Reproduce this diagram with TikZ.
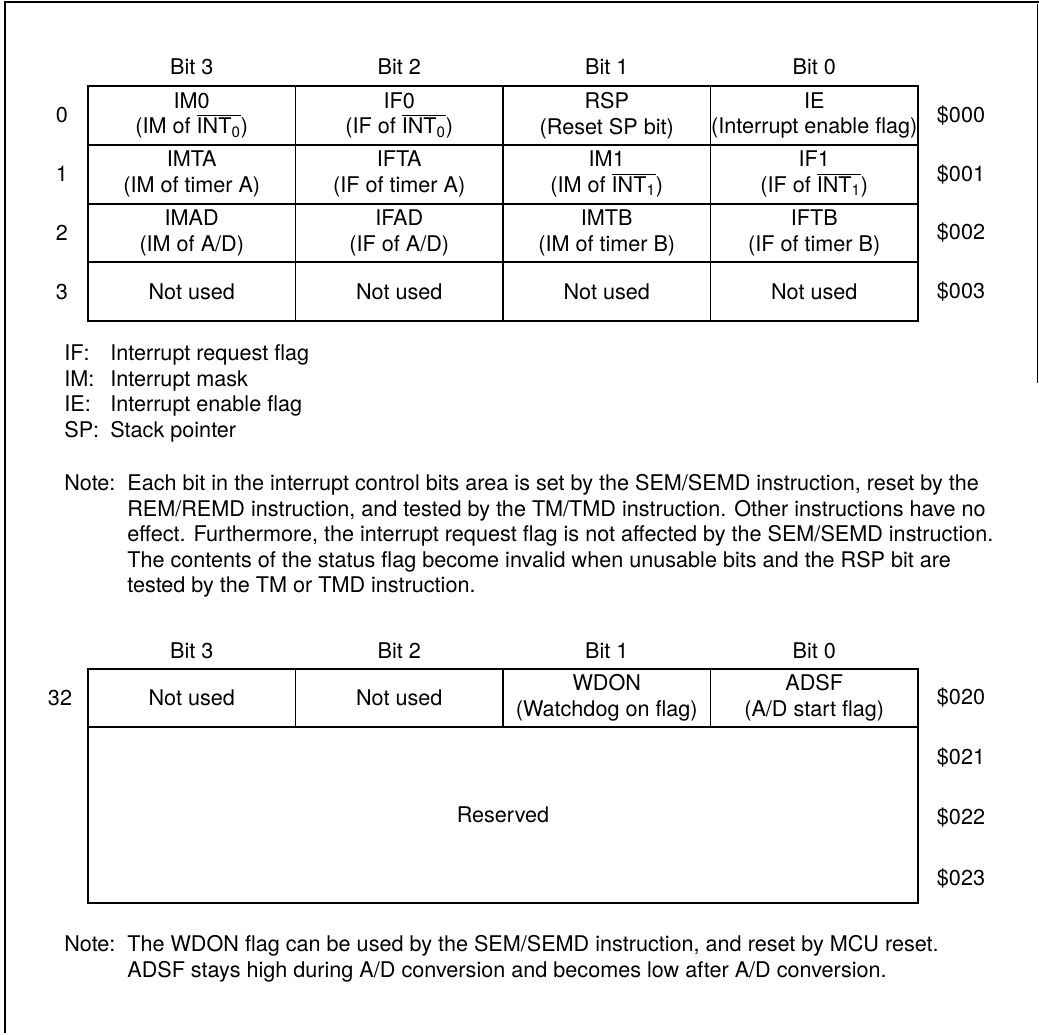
\documentclass[tikz,border=0pt]{standalone}
\usepackage{fontspec}
\setmainfont{TeX Gyre Heros}
\usetikzlibrary{positioning}
\newcommand{\ovl}[1]{$\overline{\hbox{#1}}$}

\begin{document}
\begin{tikzpicture}[
    x=0.02cm, y=-0.02cm,
    cell/.style={draw, line width=1.1pt, minimum width=4.15cm, minimum height=1.175cm, inner sep=0pt, align=center, font=\fontsize{12.3}{14.6}\selectfont},
    lbl/.style={inner sep=0pt, font=\fontsize{12.3}{14.6}\selectfont},
    notetext/.style={inner sep=0pt, align=left, font=\fontsize{12.3}{14.46}\selectfont},
    frame/.style={line width=1.4pt}
]
    \useasboundingbox (0,0) rectangle (1039,1035);

    % Page frame (cut off at the right)
    \draw[frame] (4,2) -- (1039,2);
    \draw[frame] (5,2) -- (5,1033);
    \draw[line width=0.5pt] (1037,4) -- (1037,383);

    % Bit headers (upper table)
    \node[lbl] (hb3) at (191.75,67) {Bit 3};
    \node[lbl] (hb2) at (399.25,67) {Bit 2};
    \node[lbl] (hb1) at (606.75,67) {Bit 1};
    \node[lbl] (hb0) at (814.25,67) {Bit 0};

    % Row 0
    \node[lbl] (r0) at (62,115.4) {0};
    \node[cell] (im0) at (191.75,115.4) {IM0\\(IM of \ovl{INT\textsubscript{0}})};
    \node[cell] (if0) at (399.25,115.4) {IF0\\(IF of \ovl{INT\textsubscript{0}})};
    \node[cell] (rsp) at (606.75,115.4) {RSP\\(Reset SP bit)};
    \node[cell] (ie) at (814.25,115.4) {IE\\(Interrupt enable flag)};
    \node[lbl] (a0) at (961,115.4) {\$000};

    % Row 1
    \node[lbl] (r1) at (62,174.1) {1};
    \node[cell] (imta) at (191.75,174.1) {IMTA\\(IM of timer A)};
    \node[cell] (ifta) at (399.25,174.1) {IFTA\\(IF of timer A)};
    \node[cell] (im1) at (606.75,174.1) {IM1\\(IM of \ovl{INT\textsubscript{1}})};
    \node[cell] (if1) at (814.25,174.1) {IF1\\(IF of \ovl{INT\textsubscript{1}})};
    \node[lbl] (a1) at (961,174.1) {\$001};

    % Row 2
    \node[lbl] (r2) at (62,232.9) {2};
    \node[cell] (imad) at (191.75,232.9) {IMAD\\(IM of A/D)};
    \node[cell] (ifad) at (399.25,232.9) {IFAD\\(IF of A/D)};
    \node[cell] (imtb) at (606.75,232.9) {IMTB\\(IM of timer B)};
    \node[cell] (iftb) at (814.25,232.9) {IFTB\\(IF of timer B)};
    \node[lbl] (a2) at (961,232.9) {\$002};

    % Row 3
    \node[lbl] (r3) at (62,291.6) {3};
    \node[cell] (nu30) at (191.75,291.6) {Not used};
    \node[cell] (nu31) at (399.25,291.6) {Not used};
    \node[cell] (nu32) at (606.75,291.6) {Not used};
    \node[cell] (nu33) at (814.25,291.6) {Not used};
    \node[lbl] (a3) at (961,291.6) {\$003};

    % Legend
    \node[lbl, anchor=base west] (kif) at (64,360) {IF:};
    \node[lbl, anchor=base west] (dif) at (110,360) {Interrupt request flag};
    \node[lbl, anchor=base west] (kim) at (64,386) {IM:};
    \node[lbl, anchor=base west] (dim) at (110,386) {Interrupt mask};
    \node[lbl, anchor=base west] (kie) at (64,411) {IE:};
    \node[lbl, anchor=base west] (die) at (110,411) {Interrupt enable flag};
    \node[lbl, anchor=base west] (ksp) at (64,437) {SP:};
    \node[lbl, anchor=base west] (dsp) at (110,437) {Stack pointer};

    % Note for the upper table
    \node[lbl, anchor=base west] (note1) at (64,490) {Note:};
    \node[notetext, anchor=north west] (note1txt) at (127,474.4) {Each bit in the interrupt control bits area is set by the SEM/SEMD instruction, reset by the\\REM/REMD instruction, and tested by the TM/TMD instruction. Other instructions have no\\effect. Furthermore, the interrupt request flag is not affected by the SEM/SEMD instruction.\\The contents of the status flag become invalid when unusable bits and the RSP bit are\\tested by the TM or TMD instruction.};

    % Bit headers (lower table)
    \node[lbl] (gb3) at (191.75,651) {Bit 3};
    \node[lbl] (gb2) at (399.25,651) {Bit 2};
    \node[lbl] (gb1) at (606.75,651) {Bit 1};
    \node[lbl] (gb0) at (814.25,651) {Bit 0};

    % Row 32
    \node[lbl] (r32) at (60,698) {32};
    \node[cell, minimum height=1.16cm] (nu40) at (191.75,698) {Not used};
    \node[cell, minimum height=1.16cm] (nu41) at (399.25,698) {Not used};
    \node[cell, minimum height=1.16cm] (wdon) at (606.75,698) {WDON\\(Watchdog on flag)};
    \node[cell, minimum height=1.16cm] (adsf) at (814.25,698) {ADSF\\(A/D start flag)};

    % Reserved block
    \node[cell, minimum width=16.6cm, minimum height=3.52cm] (resv) at (503,815) {Reserved};

    % Addresses (lower table)
    \node[lbl] (a20) at (961,698) {\$020};
    \node[lbl] (a21) at (961,758) {\$021};
    \node[lbl] (a22) at (961,818) {\$022};
    \node[lbl] (a23) at (961,879) {\$023};

    % Note for the lower table
    \node[lbl, anchor=base west] (note2) at (64,951) {Note:};
    \node[notetext, anchor=north west] (note2txt) at (127,935.4) {The WDON flag can be used by the SEM/SEMD instruction, and reset by MCU reset.\\ADSF stays high during A/D conversion and becomes low after A/D conversion.};
\end{tikzpicture}
\end{document}
